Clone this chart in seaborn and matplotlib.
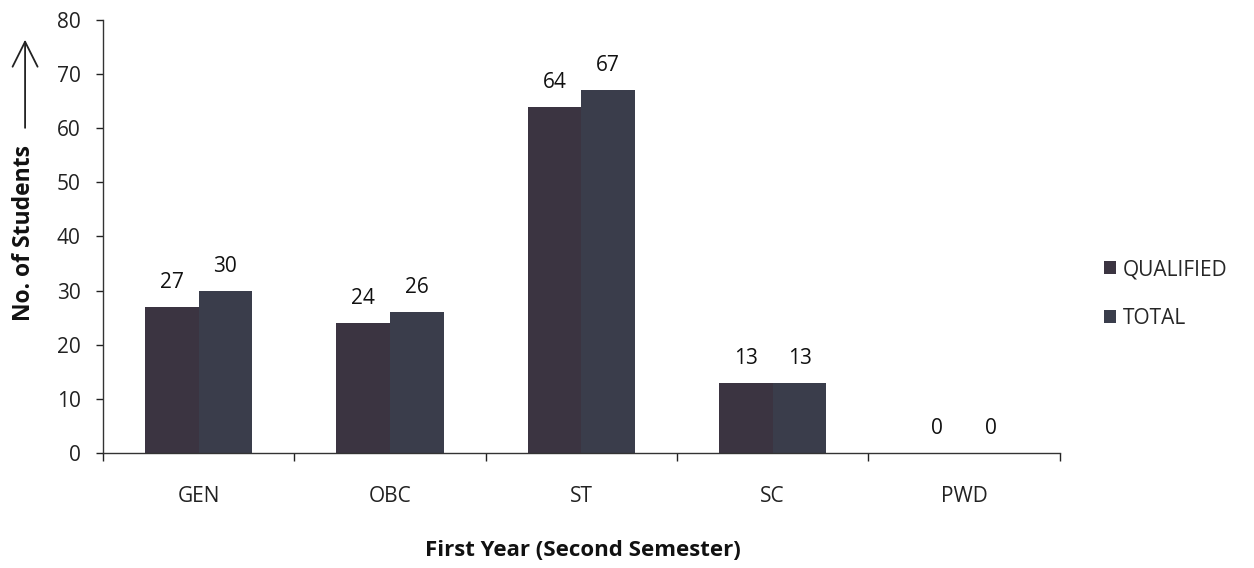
import pandas as pd
import matplotlib.pyplot as plt
import seaborn as sns
from matplotlib.ticker import FixedLocator

categories = ['GEN', 'OBC', 'ST', 'SC', 'PWD']
qualified = [27, 24, 64, 13, 0]
total = [30, 26, 67, 13, 0]

data = pd.DataFrame({
    'category': categories * 2,
    'group': ['QUALIFIED'] * len(categories) + ['TOTAL'] * len(categories),
    'students': qualified + total,
})

sns.set_theme(style='white')
plt.rcParams['font.family'] = ['Open Sans', 'DejaVu Sans']

fig = plt.figure(figsize=(12.54, 5.68), dpi=100)
ax = fig.add_axes([0.0821, 0.2025, 0.763, 0.7623])

sns.barplot(data=data, x='category', y='students', hue='group',
            palette=['#3b3441', '#3a3d4b'], width=0.56, saturation=1,
            edgecolor='none', ax=ax)

for cont in ax.containers:
    ax.bar_label(cont, padding=10, fontsize=15, color='#111111')

ax.set_xlim(-0.5, 4.5)
ax.set_ylim(0, 80)
ax.set_yticks(range(0, 81, 10))
ax.tick_params(axis='y', labelsize=15, length=5, width=1, direction='out', left=True, pad=11, colors='#222222')

# category labels at centres, tick marks at the boundaries
ax.xaxis.set_major_locator(FixedLocator([-0.5, 0.5, 1.5, 2.5, 3.5, 4.5]))
ax.xaxis.set_minor_locator(FixedLocator(range(len(categories))))
ax.set_xticklabels([''] * 6)
ax.set_xticklabels(categories, minor=True)
ax.tick_params(axis='x', which='major', length=6, width=1, direction='out', bottom=True, colors='#222222')
ax.tick_params(axis='x', which='minor', length=0, labelsize=15, pad=24, colors='#222222')

sns.despine(ax=ax)
for s in ['left', 'bottom']:
    ax.spines[s].set_color('#333333')
    ax.spines[s].set_linewidth(1)

ax.set_xlabel('')
ax.set_ylabel('')
fig.text(0.465, 0.03, 'First Year (Second Semester)', ha='center', va='center',
         fontsize=16, fontweight='bold', color='#111111')
fig.text(0.019, 0.59, 'No. of Students', rotation=90, ha='center', va='center',
         fontsize=16.5, fontweight='bold', color='#111111')
# arrow next to the y label
ax.annotate('', xy=(0.020, 0.935), xytext=(0.020, 0.77), xycoords='figure fraction',
            arrowprops=dict(arrowstyle='->,head_length=0.6,head_width=0.3',
                            color='#222222', lw=1.3, mutation_scale=30))

leg = ax.legend(loc='center left', bbox_to_anchor=(1.027, 0.367), frameon=False,
                fontsize=15, handlelength=0.55, handleheight=0.55, labelspacing=1.35,
                handletextpad=0.35)

fig.savefig('out.png', dpi=100, facecolor='white')
